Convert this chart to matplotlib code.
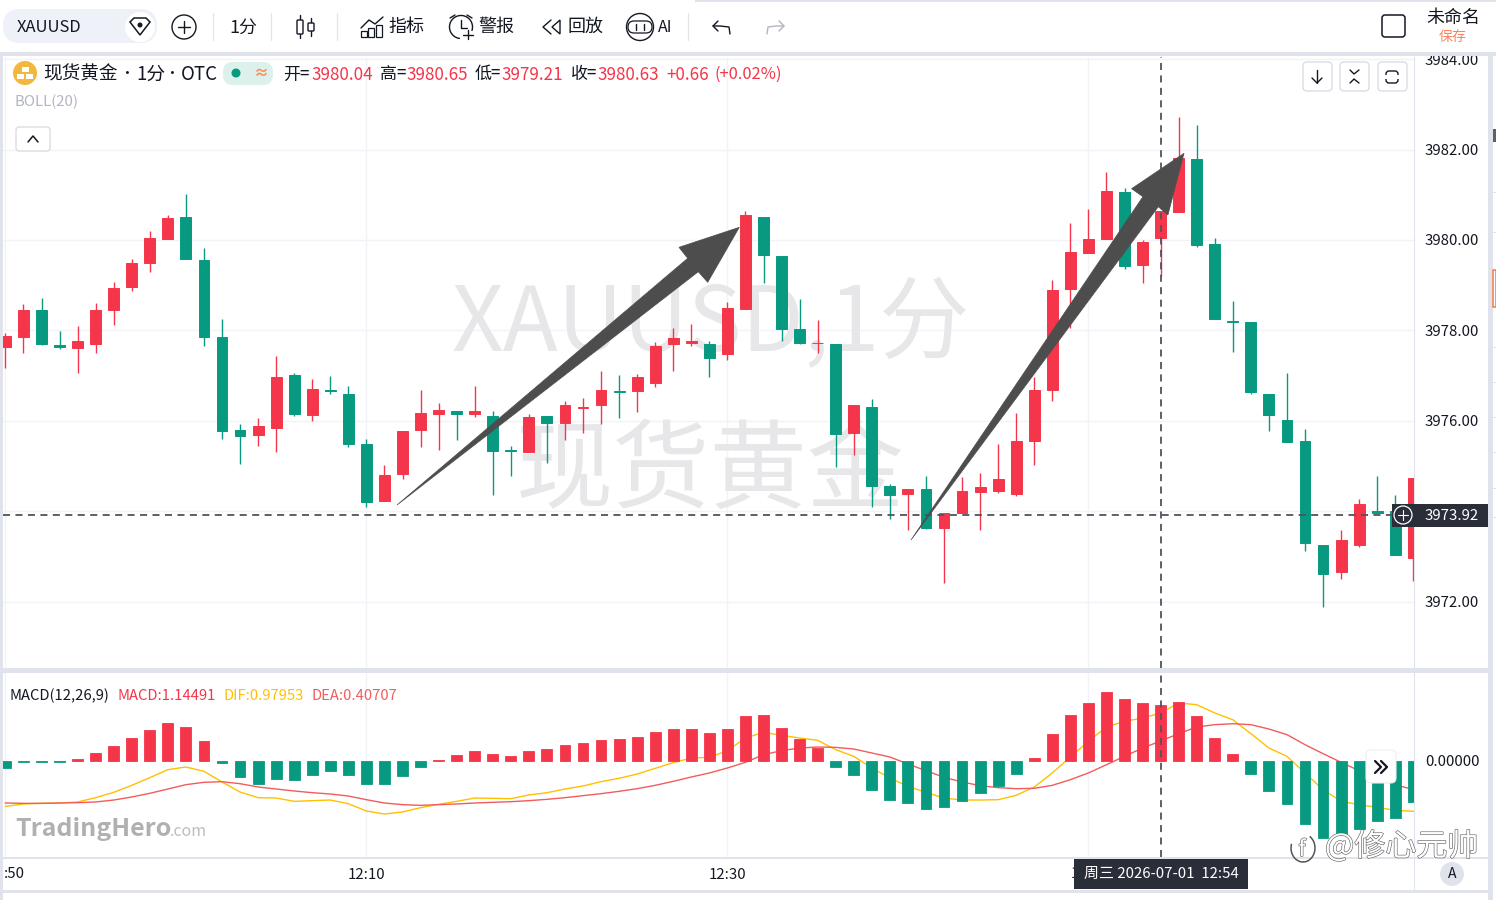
import matplotlib
matplotlib.use('Agg')
import matplotlib.pyplot as plt
import matplotlib.patheffects as pe
from matplotlib.patches import Rectangle, Circle, FancyBboxPatch, Polygon, Arc
from matplotlib.ticker import FixedLocator, FixedFormatter

plt.rcParams['font.family'] = ['Noto Sans CJK SC', 'DejaVu Sans']

# One-minute candles from 11:50 onward
opens = [3977.62, 3977.86, 3978.45, 3977.68, 3977.61, 3977.70, 3978.45, 3978.95, 3979.48, 3980.03,
         3980.51, 3979.56, 3977.85, 3975.79, 3975.68, 3975.83, 3977.00, 3976.13, 3976.69, 3976.59,
         3975.49, 3974.22, 3974.83, 3975.79, 3976.14, 3976.21, 3976.15, 3976.11, 3975.35, 3975.31,
         3976.10, 3975.96, 3976.28, 3976.34, 3976.66, 3976.65, 3976.83, 3977.70, 3977.73, 3977.70,
         3977.47, 3978.48, 3980.51, 3979.65, 3978.03, 3977.71, 3977.70, 3975.73, 3976.31, 3974.56,
         3974.38, 3974.49, 3973.62, 3973.95, 3974.42, 3974.44, 3974.37, 3975.54, 3976.67, 3978.92,
         3979.72, 3980.03, 3981.05, 3979.44, 3980.04, 3980.62, 3981.79, 3979.91, 3978.20, 3978.18,
         3976.58, 3976.02, 3975.56, 3973.25, 3972.66, 3973.26, 3974.00, 3974.00, 3972.96]
highs = [3977.93, 3978.58, 3978.71, 3977.98, 3978.10, 3978.60, 3979.07, 3979.58, 3980.20, 3980.55,
         3981.01, 3979.81, 3978.25, 3975.92, 3976.06, 3977.43, 3977.05, 3976.92, 3977.00, 3976.77,
         3975.59, 3975.02, 3975.77, 3976.67, 3976.39, 3976.21, 3976.77, 3976.21, 3975.44, 3976.14,
         3976.10, 3976.44, 3976.50, 3977.11, 3977.01, 3977.03, 3977.74, 3978.05, 3978.14, 3977.76,
         3978.62, 3980.65, 3980.51, 3979.65, 3978.69, 3978.23, 3977.70, 3976.35, 3976.48, 3974.61,
         3974.50, 3974.78, 3973.96, 3974.75, 3974.84, 3975.48, 3976.16, 3976.96, 3979.11, 3980.37,
         3980.68, 3981.50, 3981.15, 3980.00, 3980.65, 3982.71, 3982.54, 3980.04, 3978.65, 3978.18,
         3976.58, 3977.06, 3975.81, 3973.25, 3973.58, 3974.27, 3974.78, 3974.36, 3974.74]
lows = [3977.17, 3977.49, 3977.68, 3977.59, 3977.05, 3977.49, 3978.11, 3978.88, 3979.30, 3980.01,
        3979.57, 3977.66, 3975.60, 3975.04, 3975.43, 3975.31, 3976.11, 3976.00, 3976.58, 3975.42,
        3974.08, 3974.22, 3974.72, 3975.41, 3975.35, 3975.58, 3976.09, 3974.36, 3974.78, 3975.31,
        3975.06, 3975.57, 3975.72, 3975.93, 3976.05, 3976.20, 3976.75, 3977.11, 3977.66, 3976.97,
        3977.35, 3978.48, 3979.05, 3977.77, 3977.70, 3977.50, 3974.97, 3975.25, 3974.10, 3973.82,
        3973.58, 3973.60, 3972.40, 3973.95, 3973.58, 3974.39, 3974.34, 3975.01, 3976.44, 3978.06,
        3979.72, 3980.03, 3979.36, 3979.05, 3979.21, 3980.62, 3979.85, 3978.25, 3977.53, 3976.58,
        3975.78, 3975.52, 3973.12, 3971.88, 3972.50, 3973.21, 3973.95, 3973.02, 3972.46]
closes = [3977.87, 3978.45, 3977.70, 3977.64, 3977.76, 3978.46, 3978.94, 3979.48, 3980.04, 3980.48,
          3979.58, 3977.85, 3975.78, 3975.67, 3975.88, 3976.96, 3976.14, 3976.70, 3976.66, 3975.49,
          3974.21, 3974.80, 3975.77, 3976.17, 3976.24, 3976.15, 3976.21, 3975.33, 3975.33, 3976.08,
          3975.96, 3976.35, 3976.30, 3976.67, 3976.64, 3976.97, 3977.65, 3977.83, 3977.76, 3977.39,
          3978.50, 3980.54, 3979.67, 3978.02, 3977.72, 3977.73, 3975.71, 3976.35, 3974.55, 3974.35,
          3974.48, 3973.63, 3973.96, 3974.44, 3974.53, 3974.71, 3975.55, 3976.68, 3978.89, 3979.73,
          3980.01, 3981.08, 3979.43, 3979.96, 3980.63, 3981.81, 3979.89, 3978.25, 3978.18, 3976.63,
          3976.12, 3975.52, 3973.29, 3972.60, 3973.35, 3974.15, 3973.96, 3973.02, 3974.74]

macd_hist = [-0.143, -0.02, -0.02, -0.02, 0.04, 0.164, 0.307, 0.470, 0.634, 0.770,
             0.702, 0.416, -0.048, -0.334, -0.464, -0.375, -0.389, -0.293, -0.211, -0.293,
             -0.477, -0.477, -0.314, -0.123, 0.014, 0.116, 0.198, 0.136, 0.109, 0.198,
             0.245, 0.320, 0.361, 0.429, 0.457, 0.498, 0.600, 0.661, 0.661, 0.579,
             0.654, 0.925, 0.934, 0.675, 0.443, 0.259, -0.123, -0.286, -0.600, -0.804,
             -0.866, -0.975, -0.941, -0.811, -0.661, -0.504, -0.259, 0.061, 0.552, 0.948,
             1.186, 1.418, 1.275, 1.186, 1.14491, 1.207, 0.927, 0.477, 0.150, -0.273,
             -0.607, -0.873, -1.288, -1.575, -1.52, -1.397, -1.227, -1.172, -0.845]
dif = [-0.927, -0.879, -0.866, -0.859, -0.838, -0.750, -0.641, -0.498, -0.341, -0.177,
       -0.123, -0.211, -0.429, -0.634, -0.750, -0.757, -0.825, -0.811, -0.798, -0.873,
       -1.022, -1.084, -1.043, -0.954, -0.886, -0.825, -0.757, -0.763, -0.770, -0.695,
       -0.648, -0.573, -0.511, -0.423, -0.354, -0.266, -0.150, -0.034, 0.061, 0.075,
       0.211, 0.470, 0.586, 0.525, 0.470, 0.423, 0.232, 0.095, -0.143, -0.348,
       -0.518, -0.641, -0.757, -0.798, -0.798, -0.791, -0.702, -0.532, -0.245, 0.082,
       0.402, 0.695, 0.811, 0.879, 0.97953, 1.186, 1.152, 0.982, 0.845, 0.559,
       0.266, 0.095, -0.245, -0.586, -0.825, -0.893, -0.948, -1.009, -1.029]
dea = [-0.859, -0.866, -0.866, -0.859, -0.852, -0.838, -0.798, -0.736, -0.661, -0.573,
       -0.484, -0.436, -0.423, -0.464, -0.532, -0.573, -0.613, -0.648, -0.675, -0.716,
       -0.791, -0.859, -0.893, -0.907, -0.893, -0.879, -0.859, -0.845, -0.832, -0.811,
       -0.784, -0.750, -0.709, -0.668, -0.620, -0.566, -0.498, -0.416, -0.327, -0.245,
       -0.143, -0.027, 0.130, 0.211, 0.266, 0.286, 0.279, 0.245, 0.164, 0.082,
       -0.061, -0.198, -0.334, -0.429, -0.504, -0.545, -0.566, -0.559, -0.498, -0.382,
       -0.245, -0.075, 0.095, 0.266, 0.40707, 0.559, 0.695, 0.743, 0.763, 0.743,
       0.654, 0.539, 0.334, 0.150, -0.027, -0.198, -0.348, -0.484, -0.586]

price_ticks = [3972, 3974, 3976, 3978, 3980, 3982, 3984]
time_tick_pos = [0, 20, 40, 60]
time_tick_labels = ['', '12:10', '12:30', '']
crosshair_index = 64
crosshair_price = 3973.92

W, H = 1496, 900
RED = '#f5364a'
GREEN = '#089981'
GRID = '#f1f3f8'
BAND = '#e0e3eb'
DARK = '#2a2e39'
TEXT = '#131722'
WATERMARK = '#e7e7ea'


def px_axes(left, top, right, bottom, **kw):
    return fig.add_axes([left / W, 1 - bottom / H, (right - left) / W, (bottom - top) / H], **kw)


fig = plt.figure(figsize=(W / 100, H / 100), dpi=100, facecolor='white')

# chart panes, scales taken from the axis labels
ax_price = px_axes(3, 56.5, 1414, 668)
ax_macd = px_axes(3, 673, 1414, 857)
x0, x1 = (3 - 5.4) / 18.05, (1414 - 5.4) / 18.05
ax_price.set_xlim(x0, x1)
ax_macd.set_xlim(x0, x1)
ax_price.set_ylim(3982 - (668 - 149.5) / 45.2, 3982 + (149.5 - 56.5) / 45.2)
ax_macd.set_ylim(-(857 - 761) / 48.9, (761 - 673) / 48.9)

for ax in (ax_price, ax_macd):
    for s in ax.spines.values():
        s.set_visible(False)
    ax.spines['right'].set_visible(True)
    ax.spines['right'].set_color(BAND)
    ax.spines['right'].set_linewidth(0.8)
    ax.set_axisbelow(True)
    ax.xaxis.set_major_locator(FixedLocator(time_tick_pos))
    ax.xaxis.grid(True, color=GRID, lw=1)
    ax.yaxis.tick_right()
    ax.tick_params(length=0, labelsize=10.8, labelcolor=TEXT)
    ax.tick_params(axis='y', pad=7.8)

ax_price.set_yticks(price_ticks)
ax_price.set_yticklabels(['%.2f' % p for p in price_ticks])
ax_price.yaxis.grid(True, color=GRID, lw=1)
ax_price.xaxis.set_ticklabels([])

ax_macd.set_yticks([0])
ax_macd.set_yticklabels(['0.00000'])
ax_macd.xaxis.set_major_formatter(FixedFormatter(time_tick_labels))
ax_macd.tick_params(axis='x', pad=8)

# large symbol watermark
ax_price.text(0.5015, 0.559, 'XAUUSD,1分', transform=ax_price.transAxes, fontsize=65, color=WATERMARK,
              ha='center', va='center', zorder=1)
ax_price.text(0.5015, 0.317, '现货黄金', transform=ax_price.transAxes, fontsize=70, color=WATERMARK,
              ha='center', va='center', zorder=1)

# candles
for i in range(len(opens)):
    col = RED if closes[i] >= opens[i] else GREEN
    ax_price.vlines(i, lows[i], highs[i], color=col, lw=1.0, zorder=2)
    ax_price.bar(i, abs(closes[i] - opens[i]), bottom=min(opens[i], closes[i]), width=0.6,
                 color=col, edgecolor=col, linewidth=0.7, zorder=3)

# macd pane: lines run under the histogram
x_all = list(range(len(dif)))
ax_macd.plot(x_all, dif, color='#ffc000', lw=1.0, zorder=2)
ax_macd.plot(x_all, dea, color='#f25c5c', lw=1.0, zorder=2)
for i, v in enumerate(macd_hist):
    col = RED if v >= 0 else GREEN
    ax_macd.bar(i, v, width=0.6, color=col, edgecolor=col, linewidth=0.6, zorder=3)

# crosshair
dash = (0, (3.9, 3.0))
ax_price.axhline(crosshair_price, color='#50535e', lw=1.3, ls=dash, zorder=5)
ax_price.axvline(crosshair_index, color='#50535e', lw=1.3, ls=dash, zorder=5)
ax_macd.axvline(crosshair_index, color='#50535e', lw=1.3, ls=dash, zorder=5)

# everything else sits on a pixel-addressed overlay
ui = fig.add_axes([0, 0, 1, 1], zorder=10)
ui.set_xlim(0, W)
ui.set_ylim(H, 0)
ui.axis('off')
ui.patch.set_alpha(0)


def txt(x, y, s, px, color=TEXT, ha='left', **kw):
    # the CJK font sits a little high when centred
    return ui.text(x, y + 1, s, fontsize=px * 0.72, color=color, ha=ha, va='center', **kw)


def box(x0, y0, x1, y1, fc, ec='none', lw=0, z=1):
    ui.add_patch(Rectangle((x0, y0), x1 - x0, y1 - y0, fc=fc, ec=ec, lw=lw, zorder=z))


def rbox(x0, y0, x1, y1, r, fc='white', ec='none', lw=0, z=2):
    ui.add_patch(FancyBboxPatch((x0 + r, y0 + r), x1 - x0 - 2 * r, y1 - y0 - 2 * r,
                                boxstyle='round,pad=%f,rounding_size=%f' % (r, r),
                                fc=fc, ec=ec, lw=lw, zorder=z))


def line(xs, ys, color=TEXT, lw=1.0, z=3):
    ui.plot(xs, ys, color=color, lw=lw, zorder=z, solid_capstyle='round', solid_joinstyle='round')


# arrows drawn by hand on the chart
ui.add_patch(Polygon([(397, 505), (687.7, 258.3), (679, 247.3), (739.3, 227.3), (707.7, 282.3), (698.3, 271.7)],
                     fc='#4d4d4d', ec='#4d4d4d', lw=0.5, zorder=1))
ui.add_patch(Polygon([(911, 540), (1142.9, 196.7), (1131.6, 188.7), (1184, 153.3), (1167.9, 215), (1158.3, 206.7)],
                     fc='#4d4d4d', ec='#4d4d4d', lw=0.5, zorder=1))

# bands around the panes
box(0, 0, W, 51.5, 'white')
box(0, 51.5, W, 56, BAND)
box(0, 51.5, 3, 900, BAND)
box(0, 668, 1488, 673, BAND)
box(0, 857, 1488, 858.5, BAND)
box(1414, 858, 1415, 890, BAND)
box(1488, 51.5, 1493, 900, BAND)
box(0, 889.5, 1488, 892.5, BAND)
box(3, 892.5, 1488, 900, 'white')
box(695, 0, W, 1.5, BAND)
# right sidebar
box(1493, 129, W, 142, '#5d606b', z=2)
box(1493, 270, W, 307, '#ffffff', ec='#f57c45', lw=1.1, z=2)
for ly in (192, 232, 347, 382, 417, 452, 488, 517):
    box(1493, ly, W, ly + 1, BAND, z=2)

# toolbar
rbox(3, 9, 157, 43, 17, fc='#eff1f9')
ui.add_patch(Circle((140, 27), 15, fc='white', ec='none', zorder=3))
ui.add_patch(Polygon([(130, 22), (134, 18), (146, 18), (150, 22), (140, 35)], fc='white', ec=TEXT, lw=1.1, zorder=4))
ui.add_patch(Circle((140, 25), 2.5, fc=TEXT, ec='none', zorder=5))
txt(17, 27, 'XAUUSD', 16.5)
ui.add_patch(Circle((184, 27), 12, fc='none', ec=TEXT, lw=1.0, zorder=3))
line([184, 184], [21, 33])
line([178, 190], [27, 27])
for sx in (213, 271, 337, 688):
    line([sx, sx], [13, 40], color='#e3e5ea', lw=0.9)
txt(229, 26.5, '1分', 18)
# candle icon
line([300, 300], [15, 38])
rbox(297, 20, 303, 34, 1, fc='white', ec=TEXT, lw=1, z=4)
line([311, 311], [18, 36])
rbox(308, 23, 314, 31, 1, fc='white', ec=TEXT, lw=1, z=4)
# indicator icon
line([361, 369, 375, 383], [28, 20, 24, 17], lw=1)
for bx, bt in ((361, 31), (368, 28), (376, 25)):
    ui.add_patch(Rectangle((bx, bt), 6, 37 - bt, fc='none', ec=TEXT, lw=0.9, zorder=3))
txt(388, 26, '指标', 18)
# alarm icon
ui.add_patch(Arc((461, 27), 23, 23, theta1=95, theta2=20, ec=TEXT, lw=1.0, zorder=3))
line([461, 461, 467], [20, 28, 28])
line([450, 455], [18, 15])
line([467, 472], [15, 18])
line([468, 468], [30, 39])
line([463, 473], [35, 35])
txt(478, 26, '警报', 18)
# replay icon
line([551, 543, 551], [20, 27, 34])
ui.add_patch(Polygon([(560, 20), (552, 27), (560, 34)], fc='none', ec=TEXT, lw=1, closed=True, zorder=3))
txt(568, 26, '回放', 18)
# ai icon
ui.add_patch(Circle((640, 27), 13.5, fc='white', ec=TEXT, lw=1.0, zorder=3))
rbox(628, 21, 652, 33, 6, fc='white', ec=TEXT, lw=0.9, z=4)
line([636, 636], [24, 30], z=5)
line([644, 644], [24, 30], z=5)
txt(658, 27, 'AI', 16)
# undo / redo
line([713, 720, 729, 730], [26, 26, 27, 34], lw=1.0)
line([718, 713, 718], [21, 26, 31], lw=1.0)
line([784, 776, 768, 767], [26, 26, 27, 34], color='#b2b5be', lw=1.0)
line([779, 784, 779], [21, 26, 31], color='#b2b5be', lw=1.0)
# layout name
rbox(1382, 15, 1405, 37, 3, fc='white', ec=TEXT, lw=1.1)
txt(1426, 17, '未命名', 18)
txt(1453, 36.5, '保存', 14, color='#ff8259', ha='center')

# symbol legend
ui.add_patch(Circle((25, 73), 12, fc='#f2b83e', ec='none', zorder=3))
for bx, by in ((22, 67), (17, 74), (26, 74)):
    ui.add_patch(Rectangle((bx, by), 7, 5, fc='white', ec='none', zorder=4))
txt(43, 73, '现货黄金', 18.7)
txt(127, 73, '•', 15, ha='center')
txt(136, 73, '1分', 18.7)
txt(172, 73, '•', 15, ha='center')
txt(181, 73, 'OTC', 18.7)
rbox(223, 62, 273, 85, 10, fc='#dcf0ec')
ui.add_patch(Circle((236, 73), 4.5, fc=GREEN, ec='none', zorder=3))
txt(261, 72.5, '≈', 15, color='#ff8a50', ha='center', fontweight='bold')
for lx, vx, lab, val in ((283, 311, '开=', '3980.04'), (380, 406, '高=', '3980.65'),
                         (475, 501, '低=', '3979.21'), (571, 597, '收=', '3980.63')):
    txt(lx, 73.5, lab, 17)
    txt(vx, 73.5, val, 17, color=RED)
txt(666, 73.5, '+0.66', 17, color=RED)
txt(715, 73.5, '(+0.02%)', 16.5, color=RED)
txt(15, 101, 'BOLL(20)', 15, color='#b2b5c4')
rbox(16, 127, 50, 151, 3, fc='white', ec='#d8dae3', lw=0.9)
line([28, 33, 38], [142, 136, 142], lw=1.1)

# pane buttons
for bx in (1303, 1340, 1378):
    rbox(bx, 62, bx + 29, 91, 4, fc='white', ec='#d8dae3', lw=0.9)
line([1317, 1317], [70, 83])
line([1312, 1317, 1322], [78, 83, 78])
line([1350, 1354, 1359], [70, 74, 70])
line([1350, 1354, 1359], [83, 79, 83])
rbox(1386, 71, 1398, 83, 3, fc='none', ec=TEXT, lw=1.0, z=3)
box(1384, 75, 1400, 79, 'white', z=4)

# price and time badges
box(1392, 503.5, 1488, 526.5, DARK, z=4)
ui.add_patch(Circle((1403, 515), 9, fc='none', ec='white', lw=0.9, zorder=5))
line([1403, 1403], [510, 520], color='white', lw=0.8, z=5)
line([1398, 1408], [515, 515], color='white', lw=0.8, z=5)
txt(1425, 514.5, '3973.92', 15, color='white', zorder=5)
box(1074, 859, 1248, 889, DARK, z=4)
txt(1161, 873, '周三 2026-07-01  12:54', 15, color='white', ha='center', zorder=5)
txt(1071, 873, '1', 14)
txt(4, 873.5, ':50', 15)
ui.add_patch(Circle((1452, 874), 12, fc=BAND, ec='none', zorder=3))
txt(1452, 873, 'A', 14, ha='center', zorder=4)

# macd legend
txt(10, 694.5, 'MACD(12,26,9)', 14.8)
txt(118, 694.5, 'MACD:1.14491', 14.8, color=RED)
txt(224, 694.5, 'DIF:0.97953', 14.8, color='#ffc000')
txt(312, 694.5, 'DEA:0.40707', 14.8, color='#f25c5c')

# collapse button on macd pane
rbox(1366, 750, 1396, 783, 5, fc='white', ec='#eeeeee', lw=0.8)
line([1375, 1381, 1375], [761, 767, 773], lw=1.6, z=4)
line([1381, 1387, 1381], [761, 767, 773], lw=1.6, z=4)

# site marks over the macd pane
txt(15, 828, 'TradingHero', 25, color='#b0b0b0', fontweight='bold', zorder=6)
txt(170, 830, '.com', 16, color='#bdbdbd', zorder=6)
outline = [pe.withStroke(linewidth=0.9, foreground='#666666')]
txt(1325, 845.5, '@修心元帅', 31, color='white', zorder=6, path_effects=outline)
ui.add_patch(Arc((1303, 848), 24, 28, theta1=300, theta2=200, ec='#555555', lw=1.1, zorder=6))
txt(1302, 849, 'f', 22, color='white', ha='center', zorder=6, path_effects=outline)

fig.savefig('out.png', dpi=100, facecolor='white')
